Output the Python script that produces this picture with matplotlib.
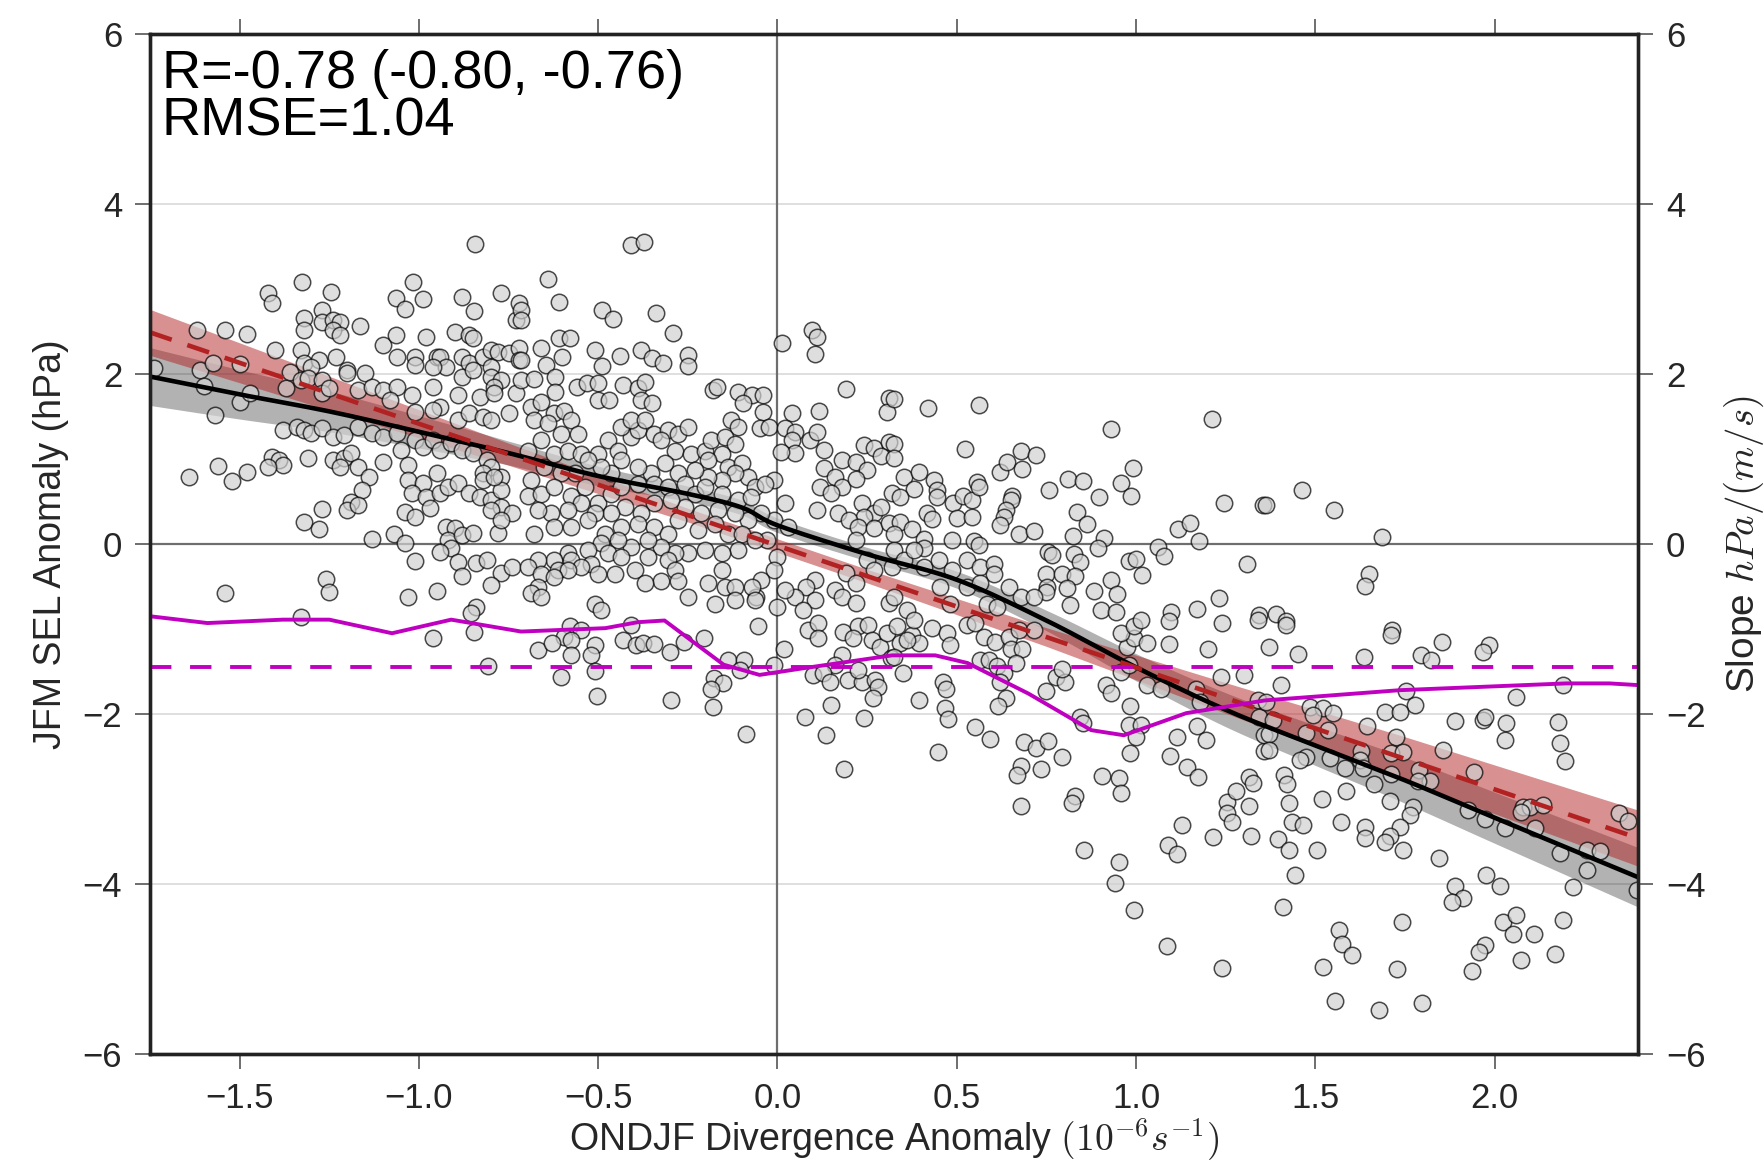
import matplotlib
matplotlib.use('Agg')
import matplotlib.pyplot as plt
import numpy as np

plt.rcParams['font.family'] = ['Liberation Sans', 'DejaVu Sans']
plt.rcParams['mathtext.fontset'] = 'cm'

# scatter: ONDJF divergence anomaly vs JFM SEL anomaly
points = np.array([
    # x < -0.7
    (-0.844, 3.53), (-1.327, 3.08), (-1.42, 2.95), (-1.41, 2.83), (-1.246, 2.96), (-1.017, 3.08),
    (-1.064, 2.90), (-0.99, 2.88), (-1.04, 2.76), (-0.88, 2.91), (-0.846, 2.74), (-0.77, 2.95),
    (-0.72, 2.83), (-0.73, 2.64), (-1.32, 2.66), (-1.27, 2.75), (-1.27, 2.61), (-1.24, 2.64),
    (-1.22, 2.61), (-1.24, 2.52), (-1.22, 2.46), (-1.32, 2.52), (-1.165, 2.56), (-1.62, 2.52),
    (-1.54, 2.52), (-1.48, 2.47), (-1.10, 2.34), (-1.064, 2.46), (-0.98, 2.44), (-0.90, 2.49),
    (-0.86, 2.46), (-0.85, 2.42), (-1.40, 2.28), (-1.33, 2.28), (-1.32, 2.13), (-1.28, 2.16),
    (-1.30, 2.08), (-1.23, 2.20), (-1.20, 2.05), (-1.20, 2.01), (-1.15, 2.01), (-1.06, 2.20),
    (-1.01, 2.20), (-1.01, 2.11), (-0.95, 2.20), (-0.94, 2.2), (-0.925, 2.08), (-0.96, 2.08),
    (-0.88, 2.2), (-0.86, 2.13), (-0.82, 2.2), (-0.80, 2.28), (-0.78, 2.26), (-0.75, 2.25),
    (-0.72, 2.31), (-0.72, 2.16), (-0.88, 1.96), (-0.85, 2.05), (-0.80, 2.08), (-0.80, 1.96),
    (-0.77, 1.93), (-0.73, 1.78), (-0.75, 1.54), (-0.79, 1.85), (-1.74, 2.07), (-1.61, 2.05),
    (-1.575, 2.13), (-1.60, 1.86), (-1.50, 2.12), (-1.50, 1.67), (-1.47, 1.78), (-1.57, 1.52),
    (-1.37, 1.84), (-1.36, 2.02), (-1.33, 1.93), (-1.31, 1.95), (-1.27, 1.93), (-1.27, 1.78),
    (-1.25, 1.84), (-1.17, 1.81), (-1.13, 1.85), (-1.10, 1.81), (-1.06, 1.85), (-1.08, 1.69),
    (-1.02, 1.75), (-0.96, 1.85), (-0.94, 1.61), (-0.89, 1.75), (-0.83, 1.73), (-0.79, 1.78),
    (-1.01, 1.55), (-0.96, 1.58), (-0.89, 1.46), (-0.86, 1.54), (-0.82, 1.49), (-0.80, 1.46),
    (-1.38, 1.34), (-1.34, 1.38), (-1.32, 1.34), (-1.30, 1.31), (-1.27, 1.36), (-1.24, 1.26),
    (-1.21, 1.28), (-1.17, 1.38), (-1.13, 1.31), (-1.10, 1.26), (-1.06, 1.31), (-1.05, 1.11),
    (-1.01, 1.22), (-0.99, 1.14), (-0.96, 1.22), (-0.94, 1.11), (-0.91, 1.19), (-0.88, 1.11),
    (-0.85, 1.07), (-0.81, 0.99), (-0.80, 0.91), (-0.77, 0.79), (-0.82, 0.84), (-1.41, 1.02),
    (-1.39, 0.99), (-1.38, 0.93), (-1.42, 0.91), (-1.31, 1.01), (-1.24, 0.99), (-1.21, 1.01),
    (-1.22, 0.91), (-1.19, 1.07), (-1.17, 0.91), (-1.10, 0.96), (-1.56, 0.92), (-1.64, 0.79),
    (-1.48, 0.85), (-1.52, 0.74), (-1.14, 0.79), (-1.16, 0.64), (-1.19, 0.49), (-1.20, 0.40),
    (-1.17, 0.46), (-1.03, 0.93), (-1.03, 0.75), (-0.99, 0.72), (-0.95, 0.84), (-1.02, 0.60),
    (-0.98, 0.55), (-1.04, 0.38), (-1.01, 0.32), (-0.97, 0.42), (-0.94, 0.60), (-0.92, 0.67),
    (-0.89, 0.72), (-0.86, 0.60), (-0.83, 0.55), (-0.80, 0.52), (-0.77, 0.64), (-0.77, 0.44),
    (-0.74, 0.36), (-0.80, 0.40), (-0.82, 0.75), (-0.79, 0.79), (-1.27, 0.41), (-1.32, 0.26),
    (-1.28, 0.18), (-1.13, 0.06), (-1.07, 0.12), (-1.04, 0.01), (-0.925, 0.20), (-0.90, 0.19),
    (-0.92, 0.05), (-0.88, 0.11), (-0.85, 0.13), (-0.91, -0.05), (-0.78, 0.13), (-0.77, 0.28),
    (-0.94, -0.09), (-0.89, -0.21), (-0.84, -0.22), (-0.81, -0.19), (-1.01, -0.20), (-0.77, -0.34),
    (-0.74, -0.27), (-0.80, -0.48), (-0.88, -0.38), (-0.95, -0.55), (-1.03, -0.62), (-1.26, -0.41),
    (-1.25, -0.56), (-1.54, -0.58), (-1.33, -0.86), (-0.84, -0.74), (-0.855, -0.81),
    (-0.961, -1.10), (-0.846, -1.04), (-0.806, -1.44),
    # -0.7 < x < 0.32
    (-0.408, 3.52), (-0.372, 3.55), (-0.64, 3.12), (-0.61, 2.85), (-0.715, 2.75), (-0.715, 2.64),
    (-0.49, 2.75), (-0.46, 2.65), (-0.34, 2.72), (-0.29, 2.48), (-0.25, 2.22), (-0.25, 2.09),
    (-0.61, 2.42), (-0.58, 2.42), (-0.66, 2.31), (-0.645, 2.11), (-0.60, 2.2), (-0.51, 2.28),
    (-0.49, 2.09), (-0.44, 2.21), (-0.38, 2.28), (-0.35, 2.19), (-0.32, 2.13), (-0.715, 2.16),
    (-0.715, 1.93), (-0.62, 1.97), (-0.68, 1.94), (-0.62, 1.79), (-0.56, 1.85), (-0.53, 1.89),
    (-0.50, 1.89), (-0.50, 1.69), (-0.47, 1.69), (-0.43, 1.87), (-0.39, 1.84), (-0.37, 1.91),
    (-0.38, 1.69), (-0.35, 1.66), (-0.18, 1.81), (-0.17, 1.85), (-0.11, 1.79), (-0.07, 1.75),
    (-0.04, 1.75), (-0.095, 1.66), (-0.04, 1.55), (-0.13, 1.46), (-0.11, 1.38), (-0.05, 1.36),
    (-0.025, 1.38), (0.014, 2.36), (0.095, 2.52), (0.11, 2.44), (0.105, 2.24), (0.19, 1.82),
    (0.31, 1.72), (0.305, 1.55), (0.04, 1.54), (0.115, 1.56), (0.02, 1.36), (0.05, 1.32),
    (0.09, 1.22), (0.11, 1.32), (0.04, 1.22), (0.13, 1.11), (0.05, 1.07), (0.01, 1.08),
    (0.24, 1.16), (0.27, 1.13), (0.31, 1.20), (0.29, 1.03), (0.18, 0.99), (0.22, 0.97),
    (0.25, 0.87), (0.13, 0.89), (0.16, 0.79), (0.18, 0.67), (0.22, 0.77), (0.12, 0.67),
    (0.15, 0.60), (0.235, 0.48), (0.27, 0.36), (0.24, 0.32), (0.29, 0.44), (0.32, 0.60),
    (0.11, 0.40), (0.17, 0.36), (0.20, 0.28), (0.225, 0.20), (0.27, 0.19), (0.31, 0.25),
    (0.22, 0.05), (0.25, -0.19), (0.27, -0.31), (0.32, -0.27), (0.19, -0.34), (0.22, -0.46),
    (0.16, -0.54), (0.105, -0.42), (0.08, -0.51), (0.05, -0.62), (0.105, -0.66), (0.07, -0.78),
    (0.18, -0.62), (0.31, -0.69), (0.22, -0.69), (-0.01, 0.75), (0.02, 0.48), (-0.01, 0.28),
    (0.03, 0.20), (-0.03, 0.05), (0.0, -0.15), (-0.01, -0.31), (0.02, -0.54), (0.0, -0.74),
    (-0.045, -0.42), (-0.06, -0.62), (-0.07, -0.51),
    (-0.687, 1.61), (-0.659, 1.67), (-0.622, 1.54), (-0.594, 1.56), (-0.678, 1.46), (-0.64, 1.42),
    (-0.603, 1.30), (-0.575, 1.46), (-0.557, 1.30), (-0.659, 1.22), (-0.696, 1.10), (-0.622, 1.06),
    (-0.585, 1.10), (-0.547, 1.06), (-0.50, 1.06), (-0.473, 1.22), (-0.445, 1.10), (-0.408, 1.26),
    (-0.389, 1.34), (-0.436, 1.38), (-0.408, 1.46), (-0.37, 1.46), (-0.343, 1.30), (-0.305, 1.34),
    (-0.277, 1.30), (-0.249, 1.38), (-0.324, 1.22), (-0.287, 1.10), (-0.24, 1.06), (-0.203, 1.10),
    (-0.184, 1.22), (-0.147, 1.26), (-0.119, 1.18), (-0.156, 1.06), (-0.194, 0.99), (-0.138, 0.91),
    (-0.10, 0.95), (-0.082, 0.79), (-0.119, 0.83), (-0.063, 0.67), (-0.035, 0.71), (-0.156, 0.75),
    (-0.194, 0.79), (-0.231, 0.87), (-0.277, 0.83), (-0.315, 0.95), (-0.352, 0.83), (-0.389, 0.91),
    (-0.436, 0.99), (-0.464, 0.83), (-0.491, 0.91), (-0.529, 0.99), (-0.566, 0.83), (-0.603, 0.83),
    (-0.65, 0.91), (-0.687, 0.75), (-0.696, 0.56), (-0.659, 0.59), (-0.622, 0.67), (-0.575, 0.56),
    (-0.538, 0.67), (-0.50, 0.48), (-0.464, 0.59), (-0.436, 0.67), (-0.389, 0.71), (-0.343, 0.71),
    (-0.305, 0.67), (-0.259, 0.71), (-0.231, 0.59), (-0.203, 0.67), (-0.156, 0.59), (-0.11, 0.52),
    (-0.073, 0.55), (-0.045, 0.36), (-0.082, 0.28), (-0.119, 0.36), (-0.166, 0.40), (-0.212, 0.36),
    (-0.259, 0.44), (-0.296, 0.52), (-0.343, 0.48), (-0.38, 0.36), (-0.426, 0.44), (-0.464, 0.36),
    (-0.51, 0.36), (-0.547, 0.48), (-0.585, 0.40), (-0.631, 0.36), (-0.668, 0.40), (-0.678, 0.12),
    (-0.622, 0.20), (-0.575, 0.20), (-0.529, 0.28), (-0.482, 0.12), (-0.436, 0.20), (-0.389, 0.24),
    (-0.343, 0.20), (-0.305, 0.12), (-0.277, 0.28), (-0.222, 0.16), (-0.175, 0.24), (-0.138, 0.12),
    (-0.10, 0.12), (-0.063, 0.05), (-0.11, -0.07), (-0.156, -0.11), (-0.203, -0.07), (-0.249, -0.11),
    (-0.287, -0.11), (-0.324, -0.03), (-0.361, 0.05), (-0.408, -0.03), (-0.445, 0.05), (-0.491, 0.01),
    (-0.529, -0.07), (-0.585, -0.11), (-0.622, -0.19), (-0.668, -0.19), (-0.696, -0.27), (-0.659, -0.35),
    (-0.613, -0.31), (-0.575, -0.19), (-0.52, -0.23), (-0.473, -0.11), (-0.436, -0.15), (-0.398, -0.31),
    (-0.361, -0.15), (-0.305, -0.19), (-0.287, -0.31), (-0.324, -0.43), (-0.37, -0.46), (-0.454, -0.35),
    (-0.50, -0.35), (-0.547, -0.27), (-0.585, -0.31), (-0.622, -0.39), (-0.668, -0.50), (-0.687, -0.58),
    (-0.659, -0.62), (-0.51, -0.70), (-0.491, -0.78), (-0.277, -0.43), (-0.249, -0.62), (-0.194, -0.46),
    (-0.156, -0.31), (-0.147, -0.50), (-0.119, -0.50), (-0.175, -0.70), (-0.119, -0.66), (-0.063, -0.66),
    (-0.58, -0.97), (-0.547, -1.01), (-0.594, -1.09), (-0.575, -1.13), (-0.668, -1.25), (-0.629, -1.17),
    (-0.575, -1.30), (-0.603, -1.56), (-0.508, -1.19), (-0.52, -1.31), (-0.508, -1.49), (-0.503, -1.79),
    (-0.431, -1.13), (-0.394, -1.19), (-0.375, -1.17), (-0.344, -1.18), (-0.408, -0.95), (-0.301, -1.27),
    (-0.296, -1.84), (-0.262, -1.15), (-0.204, -1.10), (-0.177, -1.58), (-0.152, -1.63), (-0.186, -1.70),
    (-0.181, -1.92), (-0.138, -1.36), (-0.093, -1.36), (-0.105, -1.48), (-0.088, -2.24), (-0.054, -0.97),
    (-0.01, -1.42), (0.019, -1.24), (0.077, -2.04), (0.135, -2.25), (0.185, -2.65), (0.149, -1.89),
    (0.242, -2.05), (0.084, -1.01), (0.114, -0.93), (0.114, -1.11), (0.184, -1.03), (0.225, -0.97),
    (0.253, -0.95), (0.211, -1.11), (0.263, -1.13), (0.286, -1.21), (0.305, -1.05), (0.179, -1.31),
    (0.16, -1.42), (0.10, -1.54), (0.128, -1.52), (0.146, -1.62), (0.198, -1.60), (0.235, -1.62),
    (0.272, -1.60), (0.281, -1.68), (0.267, -1.81), (0.225, -1.48), (0.318, -1.34),
    # 0.32 < x < 1.36
    (0.324, 1.71), (0.42, 1.60), (0.562, 1.63), (0.929, 1.35), (1.213, 1.47), (0.324, 1.18),
    (0.324, 1.01), (0.524, 1.12), (0.352, 0.79), (0.394, 0.85), (0.436, 0.75), (0.38, 0.65),
    (0.343, 0.55), (0.445, 0.63), (0.445, 0.55), (0.49, 0.48), (0.518, 0.57), (0.543, 0.52),
    (0.557, 0.73), (0.561, 0.67), (0.622, 0.85), (0.641, 0.97), (0.678, 1.09), (0.722, 1.05),
    (0.682, 0.88), (0.655, 0.57), (0.65, 0.52), (0.636, 0.40), (0.631, 0.32), (0.622, 0.22),
    (0.417, 0.36), (0.431, 0.30), (0.50, 0.31), (0.543, 0.32), (0.343, 0.26), (0.375, 0.18),
    (0.324, 0.12), (0.408, 0.06), (0.408, -0.05), (0.487, 0.05), (0.547, 0.03), (0.561, -0.01),
    (0.673, 0.12), (0.715, 0.15), (0.757, 0.63), (0.81, 0.76), (0.853, 0.74), (0.897, 0.55),
    (0.834, 0.38), (0.864, 0.23), (0.825, 0.10), (0.912, 0.07), (0.895, -0.05), (0.959, 0.72),
    (0.992, 0.90), (0.987, 0.57), (1.246, 0.48), (1.353, 0.46), (1.118, 0.18), (1.151, 0.25),
    (1.176, 0.04), (1.06, -0.03), (1.078, -0.14), (0.98, -0.20), (0.999, -0.18), (1.018, -0.37),
    (1.309, -0.23), (0.754, -0.09), (0.766, -0.13), (0.827, -0.12), (0.844, -0.21), (0.748, -0.35),
    (0.794, -0.35), (0.831, -0.38), (0.808, -0.52), (0.752, -0.50), (0.748, -0.57), (0.929, -0.42),
    (0.948, -0.59), (0.883, -0.55), (0.817, -0.72), (0.901, -0.78), (0.943, -0.80), (1.232, -0.64),
    (1.171, -0.76), (1.097, -0.80), (1.343, -0.84), (0.324, -0.07), (0.352, -0.19), (0.38, -0.07),
    (0.408, -0.27), (0.45, -0.19), (0.487, -0.31), (0.529, -0.19), (0.566, -0.27), (0.603, -0.23),
    (0.603, -0.35), (0.645, -0.50), (0.678, -0.62), (0.715, -0.62), (0.454, -0.50), (0.482, -0.70),
    (0.529, -0.50), (0.566, -0.46), (0.585, -0.70), (0.613, -0.74), (0.324, -0.62), (0.361, -0.78),
    (0.431, -0.99), (0.473, -1.05), (0.482, -1.19), (0.343, -1.17), (0.375, -1.07), (0.394, -1.17),
    (0.35, -1.52), (0.462, -1.62), (0.47, -1.70), (0.394, -1.84), (0.466, -1.93), (0.475, -2.06),
    (0.448, -2.45), (0.55, -2.15), (0.594, -2.29), (0.529, -0.95), (0.552, -0.93), (0.575, -1.09),
    (0.608, -1.15), (0.645, -1.09), (0.673, -1.01), (0.715, -1.01), (0.65, -1.23), (0.682, -1.24),
    (0.566, -1.36), (0.589, -1.36), (0.613, -1.44), (0.664, -1.40), (0.631, -1.52), (0.622, -1.62),
    (0.636, -1.81), (0.614, -1.91), (0.75, -1.73), (0.776, -1.56), (0.803, -1.62), (0.794, -1.47),
    (0.687, -2.33), (0.722, -2.40), (0.755, -2.32), (0.794, -2.51), (0.678, -2.61), (0.668, -2.72),
    (0.734, -2.65), (0.68, -3.08), (0.845, -2.03), (0.853, -2.11), (0.83, -2.97), (0.822, -3.05),
    (0.855, -3.60), (0.906, -2.73), (0.952, -2.75), (0.957, -2.93), (0.953, -3.74), (0.94, -3.99),
    (0.993, -4.31), (0.915, -1.66), (0.929, -1.75), (0.957, -1.50), (0.98, -1.42), (0.976, -1.21),
    (0.994, -1.11), (0.957, -1.05), (0.994, -0.97), (1.013, -0.89), (1.032, -1.17), (1.092, -1.18),
    (1.092, -0.91), (1.201, -1.24), (1.236, -1.56), (1.302, -1.54), (1.03, -1.66), (1.069, -1.70),
    (1.167, -1.70), (1.178, -1.86), (0.982, -1.91), (0.98, -2.13), (1.013, -2.13), (0.999, -2.27),
    (0.983, -2.46), (1.114, -2.27), (1.095, -2.49), (1.143, -2.62), (1.173, -2.74), (1.171, -2.14),
    (1.195, -2.30), (1.129, -3.31), (1.09, -3.54), (1.113, -3.65), (1.216, -3.45), (1.32, -3.44),
    (1.314, -3.08), (1.255, -3.03), (1.278, -2.91), (1.255, -3.16), (1.269, -3.27), (1.314, -2.74),
    (1.325, -2.81), (1.086, -4.73), (1.239, -4.99), (1.357, -2.44), (1.357, -2.25), (1.339, -1.84),
    (1.343, -2.03), (1.241, -0.93), (1.339, -0.89), (0.38, -0.89), (0.333, -0.97), (0.361, -1.13),
    (0.324, -1.33),
    # x > 1.36
    (1.363, 0.46), (1.464, 0.64), (1.552, 0.40), (1.686, 0.085), (1.649, -0.35), (1.64, -0.49),
    (1.389, -0.82), (1.419, -0.90), (1.419, -0.95), (1.372, -1.21), (1.451, -1.29), (1.715, -1.01),
    (1.712, -1.07), (1.854, -1.15), (1.985, -1.19), (1.968, -1.27), (1.794, -1.30), (1.824, -1.36),
    (1.635, -1.33), (1.405, -1.66), (1.754, -1.73), (1.777, -1.89), (1.695, -1.98), (1.735, -1.98),
    (2.061, -1.80), (2.192, -1.66), (1.889, -2.08), (1.968, -2.07), (1.973, -2.03), (2.033, -2.10),
    (2.029, -2.30), (2.176, -2.09), (2.182, -2.34), (2.196, -2.55), (1.484, -1.92), (1.521, -1.93),
    (1.549, -1.99), (1.493, -2.01), (1.535, -2.19), (1.475, -2.22), (1.372, -2.23), (1.372, -2.42),
    (1.363, -1.86), (1.382, -2.07), (1.645, -2.14), (1.726, -2.27), (1.712, -2.46), (1.745, -2.45),
    (1.628, -2.44), (1.624, -2.54), (1.633, -2.64), (1.582, -2.63), (1.54, -2.52), (1.475, -2.50),
    (1.456, -2.54), (1.856, -2.42), (1.942, -2.68), (1.79, -2.66), (1.819, -2.79), (1.787, -2.79),
    (1.712, -2.70), (1.663, -2.82), (1.414, -2.72), (1.421, -2.82), (1.519, -3.00), (1.586, -2.91),
    (1.707, -3.02), (1.773, -3.09), (1.763, -3.19), (1.735, -3.33), (1.707, -3.44), (1.694, -3.50),
    (1.745, -3.60), (1.638, -3.33), (1.64, -3.46), (1.573, -3.27), (1.428, -3.05), (1.436, -3.27),
    (1.465, -3.30), (1.396, -3.47), (1.428, -3.60), (1.505, -3.60), (1.442, -3.89), (1.41, -4.27),
    (1.926, -3.13), (1.973, -3.23), (2.029, -3.34), (2.08, -3.09), (2.099, -3.09), (2.136, -3.07),
    (2.075, -3.15), (2.112, -3.34), (2.348, -3.16), (2.373, -3.26), (2.257, -3.60), (2.294, -3.61),
    (2.182, -3.64), (2.259, -3.84), (2.22, -4.04), (2.396, -4.07), (1.845, -3.69), (1.977, -3.89),
    (2.015, -4.02), (1.889, -4.02), (1.912, -4.17), (1.88, -4.21), (1.742, -4.45), (1.565, -4.54),
    (1.575, -4.71), (1.603, -4.84), (1.521, -4.98), (1.728, -5.00), (1.554, -5.38), (1.677, -5.48),
    (1.798, -5.40), (2.024, -4.45), (2.061, -4.36), (2.05, -4.59), (2.111, -4.59), (2.19, -4.42),
    (1.973, -4.72), (1.957, -4.80), (1.936, -5.02), (2.075, -4.89), (2.168, -4.82),
])
div_anom = points[:, 0]
sel_anom = points[:, 1]

# nonlinear fit (black), read at regular x positions
fit_x = [-1.75, -1.5, -1.25, -1.0, -0.75, -0.5, -0.25, -0.1, 0.0, 0.25, 0.5, 0.75,
         1.0, 1.25, 1.5, 1.75, 2.0, 2.4]
fit_y = [1.97, 1.76, 1.56, 1.32, 1.07, 0.80, 0.59, 0.43, 0.22, -0.12, -0.42, -0.90,
         -1.45, -1.95, -2.37, -2.78, -3.22, -3.92]

# linear regression (red dashed)
lin_x = [-1.75, 2.4]
lin_y = [2.49, -3.46]

band_x = [-1.75, -1.25, -0.75, -0.25, 0.25, 0.75, 1.25, 1.75, 2.4]
gray_half = [0.34, 0.24, 0.14, 0.09, 0.08, 0.12, 0.20, 0.27, 0.35]
red_half = [0.27, 0.20, 0.13, 0.08, 0.08, 0.11, 0.18, 0.26, 0.33]

# local slope (magenta) and its mean
slope_x = [-1.75, -1.59, -1.38, -1.25, -1.075, -0.91, -0.715, -0.48, -0.39, -0.315, -0.15,
           -0.05, 0.075, 0.32, 0.44, 0.53, 0.70, 0.875, 0.966, 1.14, 1.36, 1.735, 2.2, 2.32, 2.4]
slope_y = [-0.85, -0.93, -0.89, -0.89, -1.05, -0.89, -1.03, -0.99, -0.92, -0.90, -1.42,
           -1.54, -1.46, -1.31, -1.31, -1.40, -1.76, -2.19, -2.25, -1.99, -1.84, -1.72,
           -1.64, -1.64, -1.66]
slope_mean = -1.45

text_color = '#262626'


def smooth_curve(xs, ys, n=20):
    # catmull-rom through the read points
    xs = np.asarray(xs, float)
    ys = np.asarray(ys, float)
    px = np.concatenate([[2 * xs[0] - xs[1]], xs, [2 * xs[-1] - xs[-2]]])
    py = np.concatenate([[2 * ys[0] - ys[1]], ys, [2 * ys[-1] - ys[-2]]])
    out_x, out_y = [], []
    t = np.linspace(0, 1, n, endpoint=False)
    for i in range(1, len(px) - 2):
        for arr, out in ((px, out_x), (py, out_y)):
            p0, p1, p2, p3 = arr[i - 1:i + 3]
            out.extend(0.5 * (2 * p1 + (-p0 + p2) * t + (2 * p0 - 5 * p1 + 4 * p2 - p3) * t ** 2
                              + (-p0 + 3 * p1 - 3 * p2 + p3) * t ** 3))
    out_x.append(xs[-1])
    out_y.append(ys[-1])
    return np.array(out_x), np.array(out_y)


fig = plt.figure(figsize=(17.65, 11.68), dpi=100)
ax = fig.add_axes([150 / 1765, 114 / 1168, 1488 / 1765, 1020 / 1168])

sx, sy = smooth_curve(fit_x, fit_y)
gx = np.linspace(-1.75, 2.4, 300)
g_fit = np.interp(gx, sx, sy)
g_lin = np.interp(gx, lin_x, lin_y)
g_gray = np.interp(gx, band_x, gray_half)
g_red = np.interp(gx, band_x, red_half)

for yv in [-4, -2, 2, 4]:
    ax.axhline(yv, color='#d9d9d9', lw=1.2, zorder=0)
ax.axhline(0, color='#6e6e6e', lw=1.6, zorder=1)
ax.axvline(0, color='#6e6e6e', lw=1.6, zorder=1)

ax.fill_between(gx, g_fit - g_gray, g_fit + g_gray, color='k', alpha=0.3, lw=0, zorder=2)
ax.fill_between(gx, g_lin - g_red, g_lin + g_red, color='#b22222', alpha=0.5, lw=0, zorder=2)

ax.scatter(div_anom, sel_anom, s=140, facecolor='#d0d0d0', edgecolor='k',
           linewidth=1.1, alpha=0.7, zorder=3)

ax.plot(gx, g_fit, color='k', lw=3.3, zorder=5)
ax.plot(lin_x, lin_y, color='#b22222', lw=3.3, dashes=(5, 3.6), zorder=5)
ax.plot(slope_x, slope_y, color='#c000c0', lw=2.8, zorder=5)
ax.axhline(slope_mean, color='#c000c0', lw=2.8, dashes=(5.5, 4.8), zorder=5)

ax.set_xlim(-1.75, 2.4)
ax.set_ylim(-6, 6)
ax.set_xticks(np.arange(-1.5, 2.01, 0.5))
ax.set_yticks(np.arange(-6, 7, 2))

ax.text(0.008, 0.985, 'R=-0.78 (-0.80, -0.76)\nRMSE=1.04', transform=ax.transAxes,
        ha='left', va='top', fontsize=39, linespacing=0.92, color='k')

ax.set_xlabel('ONDJF Divergence Anomaly $(10^{-6}s^{-1})$', fontsize=27,
              color=text_color, labelpad=1)
ax.set_ylabel('JFM SEL Anomaly (hPa)', fontsize=27, color=text_color, labelpad=10)

ax2 = ax.twinx()
ax2.set_ylim(-6, 6)
ax2.set_yticks(np.arange(-6, 7, 2))
ax2.set_ylabel('Slope $hPa/(m/s)$', fontsize=28, color=text_color, labelpad=12)

for a in (ax, ax2):
    a.tick_params(direction='out', length=11, width=1.2, color='#555555',
                  labelsize=25, labelcolor=text_color, pad=9)
    for sp in a.spines.values():
        sp.set_linewidth(2.4)
        sp.set_color('#222222')
ax.tick_params(axis='x', top=True)

fig.savefig('out.png', dpi=100)
